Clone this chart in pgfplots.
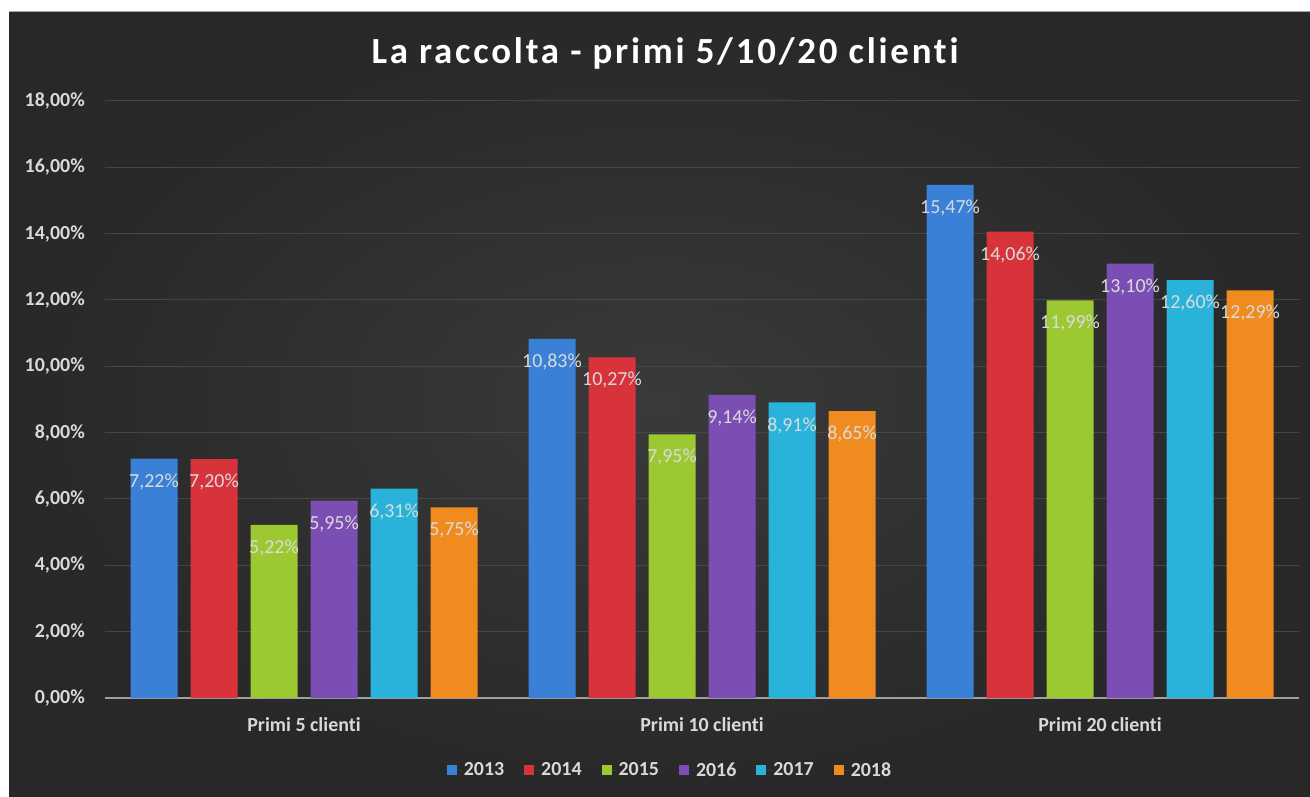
\documentclass[border=0pt]{standalone}
\usepackage{pgfplots}
\pgfplotsset{compat=1.18}
\usepackage{fontspec}
\setmainfont{Carlito}[Ligatures=NoCommon]
\definecolor{c13}{HTML}{3A80D6}
\definecolor{c14}{HTML}{D8333B}
\definecolor{c15}{HTML}{9CC932}
\definecolor{c16}{HTML}{7A4EB3}
\definecolor{c17}{HTML}{2AB3DA}
\definecolor{c18}{HTML}{F08B1F}
\definecolor{bgin}{HTML}{3A3A3A}
\definecolor{bgout}{HTML}{282828}
\definecolor{txt}{HTML}{D9D9D9}
\definecolor{lab}{HTML}{DADADA}
\definecolor{gridc}{HTML}{464646}
\pgfplotsset{
  mybar/.style={draw=none, fill=#1,
    legend image code/.code={\path[##1] (0bp,-5bp) rectangle (10bp,5bp); \path (0bp,0bp) -- (15bp,0bp);}},
}
\begin{document}
\begin{tikzpicture}[x=1bp,y=1bp]
\useasboundingbox (0,0) rectangle (1310,796);
\fill[white] (0,0) rectangle (1310,796);
\shade[inner color=bgin, outer color=bgout] (9,0) rectangle (1310,784);
\draw[gray!70, line width=1bp] (9,784) -- (1310,784);
\node[text=white, font={\fontsize{37}{40}\selectfont\bfseries\addfontfeature{LetterSpace=7.5}}] at (665,743) {La raccolta - primi 5/10/20 clienti};
\begin{axis}[
  at={(105bp,98bp)}, anchor=south west,
  width=1194bp, height=597bp, scale only axis,
  xmin=-0.5, xmax=2.5, ymin=0, ymax=18,
  ybar=13bp, bar width=47bp,
  axis lines=left, axis line style={-},
  x axis line style={draw=gray!75, line width=1.6bp},
  y axis line style={draw=none},
  major tick length=0pt,
  ymajorgrids, grid style={draw=gridc, line width=1bp},
  xtick={0,1,2},
  xticklabels={Primi 5 clienti, Primi 10 clienti, Primi 20 clienti},
  ytick={0,2,4,6,8,10,12,14,16,18},
  yticklabels={{0,00\%},{2,00\%},{4,00\%},{6,00\%},{8,00\%},{10,00\%},{12,00\%},{14,00\%},{16,00\%},{18,00\%}},
  xticklabel style={anchor=base, yshift=-33bp, font={\fontsize{20}{22}\selectfont\bfseries}, text=txt},
  yticklabel style={anchor=east, inner sep=0pt, xshift=-20bp, font={\fontsize{20}{22}\selectfont\bfseries}, text=txt},
  point meta=explicit symbolic,
  nodes near coords,
  every node near coord/.append style={anchor=center, yshift=-23bp, font={\fontsize{20}{22}\selectfont}, text=lab},
  legend columns=6,
  legend style={at={(0.4732,-0.1206)}, anchor=center, draw=none, fill=none, text=txt,
    font={\fontsize{20}{22}\selectfont\bfseries},
    /tikz/every even column/.append style={column sep=18bp}},
  clip=false,
]
\addplot[mybar=c13] coordinates {(0,7.22)[7,22\%] (1,10.83)[10,83\%] (2,15.47)[15,47\%]};
\addplot[mybar=c14] coordinates {(0,7.20)[7,20\%] (1,10.27)[10,27\%] (2,14.06)[14,06\%]};
\addplot[mybar=c15] coordinates {(0,5.22)[5,22\%] (1,7.95)[7,95\%] (2,11.99)[11,99\%]};
\addplot[mybar=c16] coordinates {(0,5.95)[5,95\%] (1,9.14)[9,14\%] (2,13.10)[13,10\%]};
\addplot[mybar=c17] coordinates {(0,6.31)[6,31\%] (1,8.91)[8,91\%] (2,12.60)[12,60\%]};
\addplot[mybar=c18] coordinates {(0,5.75)[5,75\%] (1,8.65)[8,65\%] (2,12.29)[12,29\%]};
\legend{2013,2014,2015,2016,2017,2018}
\end{axis}
\end{tikzpicture}
\end{document}
